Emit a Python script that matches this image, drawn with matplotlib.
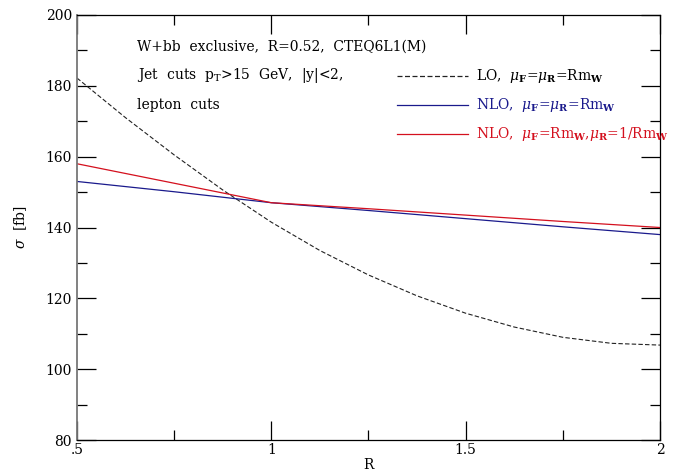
import matplotlib
matplotlib.use('Agg')
import matplotlib.pyplot as plt
from matplotlib.ticker import MultipleLocator, FixedLocator, FixedFormatter

plt.rcParams['font.family'] = 'DejaVu Serif'
plt.rcParams['mathtext.fontset'] = 'dejavuserif'

# --- dados ---
r_lo = [0.5, 0.625, 0.75, 0.875, 1.0, 1.125, 1.25, 1.375, 1.5, 1.625, 1.75, 1.875, 2.0]
sigma_lo = [182.2, 171.0, 160.5, 150.6, 141.5, 133.5, 126.6, 120.7, 115.8, 111.9, 109.0, 107.3, 106.8]

r_nlo = [0.5, 0.75, 1.0, 1.25, 1.5, 1.75, 2.0]
sigma_nlo = [153.0, 150.1, 147.0, 144.8, 142.5, 140.2, 138.0]
sigma_nlo_alt = [158.0, 152.5, 147.0, 145.3, 143.5, 141.7, 140.0]

x_ticks = [0.5, 1.0, 1.5, 2.0]
x_ticklabels = ['.5', '1', '1.5', '2']

labels = [r'LO,  $\mu_\mathbf{F}$=$\mu_\mathbf{R}$=Rm$_\mathbf{W}$',
          r'NLO,  $\mu_\mathbf{F}$=$\mu_\mathbf{R}$=Rm$_\mathbf{W}$',
          r'NLO,  $\mu_\mathbf{F}$=Rm$_\mathbf{W}$,$\mu_\mathbf{R}$=1/Rm$_\mathbf{W}$']

COLOR_LO = '#222222'
COLOR_NLO = '#1a1a8c'
COLOR_ALT = '#d4101e'

fig = plt.figure(figsize=(6.83, 4.76), dpi=100)
ax = fig.add_axes([0.1127, 0.0756, 0.8536, 0.8929])

ax.plot(r_lo, sigma_lo, color=COLOR_LO, linestyle=(0, (4, 2)), linewidth=0.8)
ax.plot(r_nlo, sigma_nlo, color=COLOR_NLO, linewidth=0.9)
ax.plot(r_nlo, sigma_nlo_alt, color=COLOR_ALT, linewidth=0.9)

ax.set_xlim(0.5, 2.0)
ax.set_ylim(80, 200)

# ticks para dentro, nos quatro lados
ax.xaxis.set_major_locator(FixedLocator(x_ticks))
ax.xaxis.set_major_formatter(FixedFormatter(x_ticklabels))
ax.xaxis.set_minor_locator(MultipleLocator(0.25))
ax.yaxis.set_major_locator(MultipleLocator(20))
ax.yaxis.set_minor_locator(MultipleLocator(10))
ax.tick_params(which='both', direction='in', top=True, right=True, labelsize=10, width=0.9)
ax.tick_params(axis='x', pad=2)
ax.tick_params(which='major', length=14)
ax.tick_params(which='minor', length=7)
for s in ax.spines.values():
    s.set_linewidth(0.9)
ax.spines['left'].set_color('#777777')
ax.spines['left'].set_linewidth(1.3)

ax.set_xlabel('R', fontsize=10, labelpad=1)
ax.set_ylabel(r'$\sigma$  [fb]', fontsize=10, labelpad=12)

# texto de cabeçalho
txt = ['W+bb  exclusive,  R=0.52,  CTEQ6L1(M)',
       r'Jet  cuts  p$_\mathrm{T}$>15  GeV,  |y|<2,',
       'lepton  cuts']
for i, t in enumerate(txt):
    ax.text(0.103, 0.925 - i * 0.068, t, transform=ax.transAxes, fontsize=10, va='center')

# legenda manual
colors = [COLOR_LO, COLOR_NLO, COLOR_ALT]
styles = [(0, (4, 2)), '-', '-']
for i in range(3):
    yy = 0.856 - i * 0.068
    ax.plot([0.549, 0.671], [yy, yy], transform=ax.transAxes, color=colors[i],
            linestyle=styles[i], linewidth=0.9)
    ax.text(0.684, yy, labels[i], transform=ax.transAxes, fontsize=10, va='center',
            color=colors[i] if i > 0 else 'black')

fig.savefig('out.png', dpi=100)
